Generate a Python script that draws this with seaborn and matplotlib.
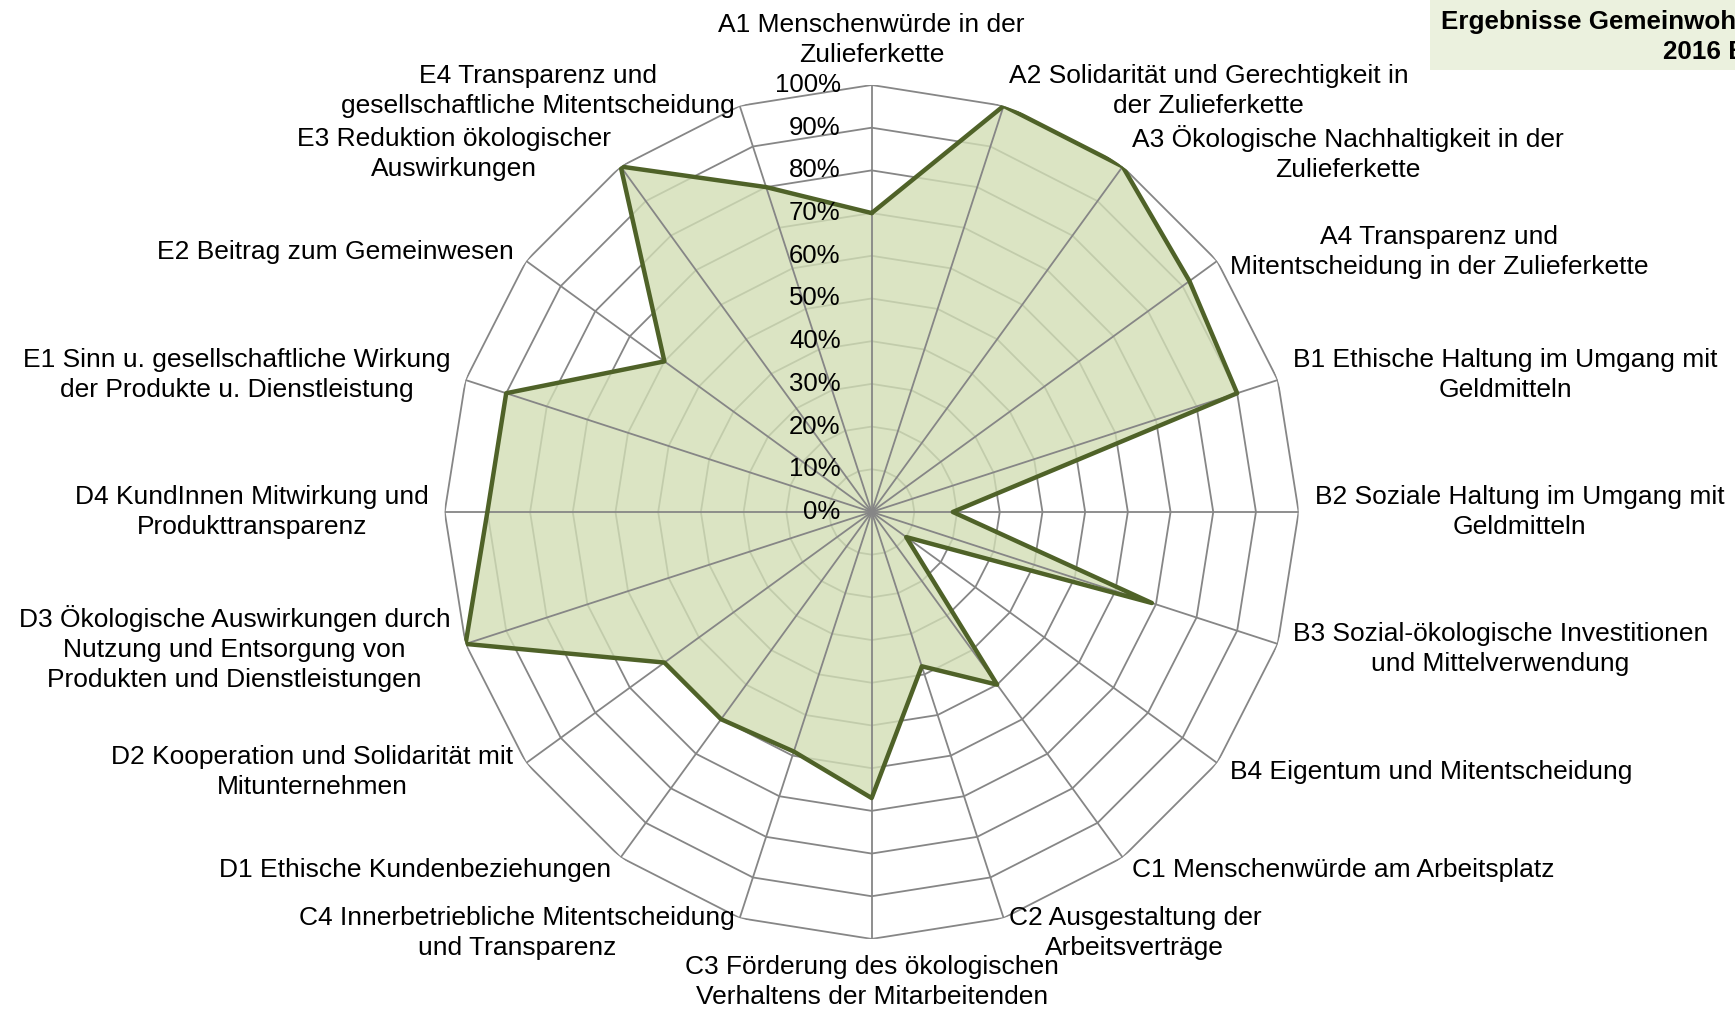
import numpy as np
import matplotlib
matplotlib.use("Agg")
import matplotlib.pyplot as plt
from matplotlib.patches import Rectangle
import seaborn as sns

# Kategorien der Gemeinwohl-Matrix (im Uhrzeigersinn ab oben)
kategorien = [
    "A1 Menschenwürde in der\nZulieferkette",
    "A2 Solidarität und Gerechtigkeit in\nder Zulieferkette",
    "A3 Ökologische Nachhaltigkeit in der\nZulieferkette",
    "A4 Transparenz und\nMitentscheidung in der Zulieferkette",
    "B1 Ethische Haltung im Umgang mit\nGeldmitteln",
    "B2 Soziale Haltung im Umgang mit\nGeldmitteln",
    "B3 Sozial-ökologische Investitionen\nund Mittelverwendung",
    "B4 Eigentum und Mitentscheidung",
    "C1 Menschenwürde am Arbeitsplatz",
    "C2 Ausgestaltung der\nArbeitsverträge",
    "C3 Förderung des ökologischen\nVerhaltens der Mitarbeitenden",
    "C4 Innerbetriebliche Mitentscheidung\nund Transparenz",
    "D1 Ethische Kundenbeziehungen",
    "D2 Kooperation und Solidarität mit\nMitunternehmen",
    "D3 Ökologische Auswirkungen durch\nNutzung und Entsorgung von\nProdukten und Dienstleistungen",
    "D4 KundInnen Mitwirkung und\nProdukttransparenz",
    "E1 Sinn u. gesellschaftliche Wirkung\nder Produkte u. Dienstleistung",
    "E2 Beitrag zum Gemeinwesen",
    "E3 Reduktion ökologischer\nAuswirkungen",
    "E4 Transparenz und\ngesellschaftliche Mitentscheidung",
]

# erreichte Punkte in Prozent
werte = [70, 100, 100, 92, 90, 19, 69, 10, 50, 38, 67, 59, 60, 60, 100, 90, 90, 60, 100, 80]

ringe = [10, 20, 30, 40, 50, 60, 70, 80, 90, 100]
ring_labels = ["0%", "10%", "20%", "30%", "40%", "50%", "60%", "70%", "80%", "90%", "100%"]

# Titel ragt im Original über den rechten Rand hinaus
titel_1 = "Ergebnisse Gemeinwohl-Bilanz"
titel_2 = "2016 Bericht"

sns.set_theme(style="white")
plt.rcParams["font.family"] = ["Liberation Sans", "DejaVu Sans"]
plt.rcParams["text.color"] = "black"

n = len(kategorien)
winkel = np.linspace(0, 2 * np.pi, n, endpoint=False)
theta = np.append(winkel, 2 * np.pi)
r = np.append(werte, werte[0])

fig = plt.figure(figsize=(17.35, 10.14), dpi=100)
ax = fig.add_axes([0.2563, 0.074, 0.4922, 0.8422], projection="polar")
ax.set_theta_zero_location("N")
ax.set_theta_direction(-1)
ax.set_ylim(0, 100)
ax.axis("off")

grau = "#868686"

# Ringe als Polygone
for v in ringe:
    ax.plot(theta, [v] * (n + 1), color=grau, lw=1.3, zorder=1)

# Fläche
ax.fill(theta, r, color="#d2deb5", alpha=0.8, lw=0, zorder=2)

# Speichen
for a in winkel:
    ax.plot([a, a], [0, 100], color=grau, lw=1.3, zorder=3)

# Linie
sns.lineplot(x=theta, y=r, sort=False, estimator=None, ax=ax,
             color="#4f6228", lw=3.2, zorder=4)

# Achsenbeschriftung (Prozent)
for v, lab in zip([0] + ringe, ring_labels):
    ax.annotate(lab, xy=(0, v), xytext=(-31, 0), textcoords="offset pixels",
                ha="right", va="center", fontsize=18.5, color="black", zorder=5)

# Kategorien
for a, lab in zip(winkel, kategorien):
    s, c = np.sin(a), np.cos(a)
    if abs(s) < 0.05:
        ha = "center"
        va = "bottom" if c > 0 else "top"
        off = (0, 18 if c > 0 else -16)
    else:
        ha = "left" if s > 0 else "right"
        va = "center"
        off = (16 * s, 16 * c)
    ax.annotate(lab, xy=(a, 100), xytext=off, textcoords="offset pixels",
                ha=ha, va=va, fontsize=19, linespacing=1.32, color="black",
                multialignment="center", annotation_clip=False)

# Titelkasten oben rechts (abgeschnitten wie im Original)
fig.patches.append(Rectangle((1430 / 1735, 1 - 70 / 1014), 1.0, 70 / 1014,
                             transform=fig.transFigure, facecolor="#ebf1de",
                             edgecolor="none", zorder=0))
fig.text(1441 / 1735, 1 - 22 / 1014, titel_1, ha="left", va="center",
         fontsize=18.7, fontweight="bold", color="black")
fig.text(1663 / 1735, 1 - 52 / 1014, titel_2, ha="left", va="center",
         fontsize=18.7, fontweight="bold", color="black")

fig.savefig("out.png", dpi=100)
